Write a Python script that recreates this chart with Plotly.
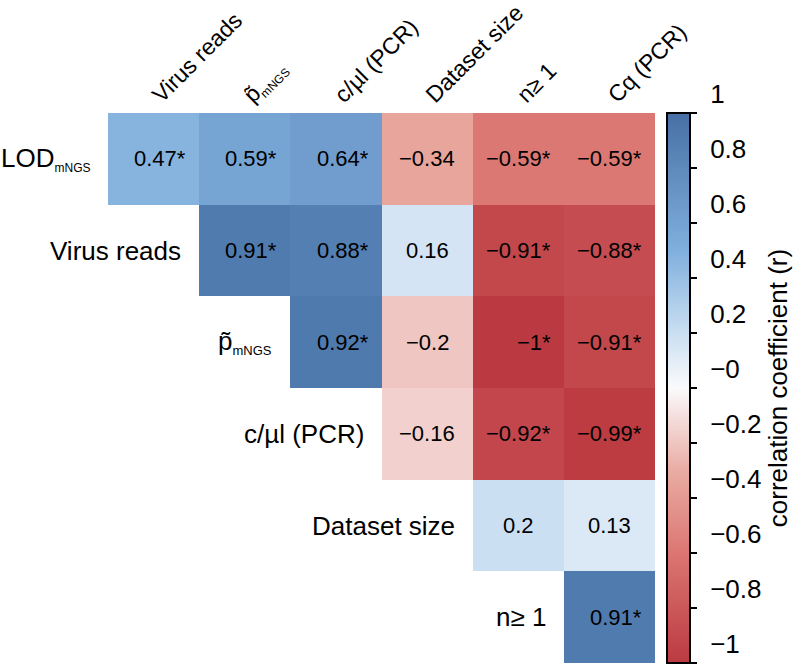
import plotly.graph_objects as go

SUB = '<sub><span style="font-size:13px">mNGS</span></sub>'
SUB_L = '<sub><span style="font-size:12px">mNGS</span></sub>'
SUB_C = '<sub><span style="font-size:12px">mNGS</span></sub>'

row_labels = ["LOD" + SUB_L, "Virus reads", "p\u0303" + SUB, "c/\u00b5l (PCR)", "Dataset size", "n\u2265 1"]
col_labels = ["Virus reads", "p\u0303" + SUB_C, "c/\u00b5l (PCR)", "Dataset size", "n\u2265 1", "Cq (PCR)"]

# correlation values (upper triangle), None = empty
r_lod = [0.47, 0.59, 0.64, -0.34, -0.59, -0.59]
r_virus = [None, 0.91, 0.88, 0.16, -0.91, -0.88]
r_p = [None, None, 0.92, -0.20, -1.00, -0.91]
r_cpcr = [None, None, None, -0.16, -0.92, -0.99]
r_ds = [None, None, None, None, 0.20, 0.13]
r_n = [None, None, None, None, None, 0.91]

lbl_lod = ["0.47*", "0.59*", "0.64*", "\u22120.34", "\u22120.59*", "\u22120.59*"]
lbl_virus = [None, "0.91*", "0.88*", "0.16", "\u22120.91*", "\u22120.88*"]
lbl_p = [None, None, "0.92*", "\u22120.2", "\u22121*", "\u22120.91*"]
lbl_cpcr = [None, None, None, "\u22120.16", "\u22120.92*", "\u22120.99*"]
lbl_ds = [None, None, None, None, "0.2", "0.13"]
lbl_n = [None, None, None, None, None, "0.91*"]

z = [r_lod, r_virus, r_p, r_cpcr, r_ds, r_n]
labels = [lbl_lod, lbl_virus, lbl_p, lbl_cpcr, lbl_ds, lbl_n]

cb_vals = [1, 0.8, 0.6, 0.4, 0.2, 0, -0.2, -0.4, -0.6, -0.8, -1]
cb_text = ["1", "0.8", "0.6", "0.4", "0.2", "\u22120", "\u22120.2", "\u22120.4", "\u22120.6", "\u22120.8", "\u22121"]

colorscale = [
    [0.0, "rgb(187,58,65)"],
    [0.2, "rgb(220,118,114)"],
    [0.35, "rgb(233,172,163)"],
    [0.5, "rgb(250,250,252)"],
    [0.6, "rgb(202,223,242)"],
    [0.75, "rgb(128,175,221)"],
    [1.0, "rgb(70,112,165)"],
]

FONT = "Liberation Sans, Arial, sans-serif"
PAD = "\u00a0\u00a0"

fig = go.Figure()
fig.add_trace(go.Heatmap(
    z=z,
    x=list(range(6)),
    y=list(range(6)),
    zmin=-1, zmax=1,
    colorscale=colorscale,
    hoverinfo="skip",
    colorbar=dict(
        x=1.022, xanchor="left", xref="paper",
        y=0.5, yanchor="middle", len=1, lenmode="fraction",
        thickness=23, xpad=0, ypad=0,
        outlinecolor="black", outlinewidth=2,
        tickvals=cb_vals, ticktext=[PAD + t for t in cb_text],
        ticks="outside", ticklen=6, tickwidth=2, tickcolor="black",
        ticklabelposition="outside top",
        tickfont=dict(family=FONT, size=26, color="black"),
        title=dict(text="correlation coefficient (r)", side="right",
                   font=dict(family=FONT, size=26, color="black")),
    ),
))

annotations = []
for i, row in enumerate(labels):
    for j, t in enumerate(row):
        if t is None:
            continue
        if t.endswith("*"):
            annotations.append(dict(x=j + 0.5, y=i, xref="x", yref="y", text=t,
                                    showarrow=False, xanchor="right", xshift=-11,
                                    font=dict(family=FONT, size=22, color="black")))
        else:
            annotations.append(dict(x=j, y=i, xref="x", yref="y", text=t,
                                    showarrow=False, xanchor="center",
                                    font=dict(family=FONT, size=22, color="black")))
for i, lab in enumerate(row_labels):
    annotations.append(dict(x=i - 0.5, y=i, xref="x", yref="y", text=lab,
                            showarrow=False, xanchor="right", xshift=-16,
                            font=dict(family=FONT, size=26, color="black")))

fig.update_layout(
    width=797, height=664,
    margin=dict(l=108, r=142, t=113, b=1, autoexpand=False),
    paper_bgcolor="white", plot_bgcolor="white",
    annotations=annotations,
    font=dict(family=FONT, color="black"),
    xaxis=dict(side="top", tickmode="array", tickvals=list(range(6)), ticktext=col_labels,
               tickangle=-45, tickfont=dict(family=FONT, size=23, color="black"),
               showgrid=False, zeroline=False, showline=False, ticks="",
               automargin=False, range=[-0.5, 5.5], fixedrange=True),
    yaxis=dict(autorange="reversed", showticklabels=False, showgrid=False,
               automargin=False, zeroline=False, showline=False, ticks="", fixedrange=True),
)

fig.write_html("out.html", config={"displayModeBar": False},
               post_script="document.body.style.margin='0';")
